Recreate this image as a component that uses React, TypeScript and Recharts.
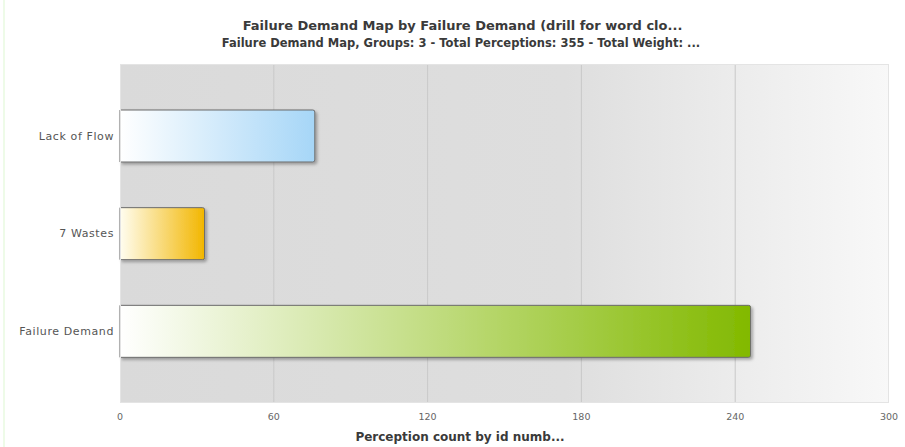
import { BarChart, Bar, XAxis, YAxis, CartesianGrid, Cell } from "recharts";

// Failure demand groups and their perception counts
const categories = ["Lack of Flow", "7 Wastes", "Failure Demand"];
const counts = [76, 33, 246];
const xTicks = [0, 60, 120, 180, 240, 300];

// start / end colour of each bar's horizontal gradient
const barColors = [
  ["#ffffff", "#a6d6f7"],
  ["#fffdf0", "#f2b600"],
  ["#ffffff", "#82b900"],
];

const data = categories.map((name, i) => ({ name, value: counts[i] }));

const FONT = "Verdana, 'DejaVu Sans', sans-serif";

const centered = {
  position: "absolute" as const,
  left: 0,
  width: 925,
  textAlign: "center" as const,
  fontWeight: "bold" as const,
  color: "#3a3a3a",
  whiteSpace: "nowrap" as const,
};

export default function App() {
  return (
    <div style={{ position: "absolute", left: 0, top: 0, width: 905, height: 447, background: "#fff", fontFamily: FONT }}>
      <div style={{ position: "absolute", left: 3, top: 0, width: 2, height: 447, background: "#eefbe8" }} />
      <div style={{ ...centered, top: 18, fontSize: 13 }}>
        Failure Demand Map by Failure Demand (drill for word clo...
      </div>
      <div style={{ ...centered, top: 36, fontSize: 11.5, width: 922 }}>
        Failure Demand Map, Groups: 3 - Total Perceptions: 355 - Total Weight: ...
      </div>
      <BarChart
        width={905}
        height={447}
        data={data}
        layout="vertical"
        margin={{ top: 64, right: 16, left: 0, bottom: 0 }}
        barSize={52}
        style={{ position: "absolute", left: 0, top: 0 }}
      >
        <defs>
          <linearGradient id="plotBg" x1="0" y1="0" x2="1" y2="0">
            <stop offset="0%" stopColor="#dadada" />
            <stop offset="58%" stopColor="#dedede" />
            <stop offset="80%" stopColor="#ececec" />
            <stop offset="100%" stopColor="#f8f8f8" />
          </linearGradient>
          {barColors.map(([from, to], i) => (
            <linearGradient key={i} id={`barGrad${i}`} x1="0" y1="0" x2="1" y2="0">
              <stop offset="0%" stopColor={from} />
              <stop offset="100%" stopColor={to} />
            </linearGradient>
          ))}
          <filter id="barShadow" x="-5%" y="-10%" width="115%" height="130%">
            <feDropShadow dx="2" dy="2" stdDeviation="1.5" floodColor="#000" floodOpacity="0.3" />
          </filter>
        </defs>
        <CartesianGrid
          horizontal={false}
          stroke="#c9c9c9"
          fill="url(#plotBg)"
          verticalValues={[60, 120, 180, 240]}
        />
        <XAxis
          type="number"
          domain={[0, 300]}
          ticks={xTicks}
          height={44}
          axisLine={false}
          tickLine={false}
          tick={{ fontSize: 9.5, fill: "#666", fontFamily: FONT }}
          tickMargin={4}
        />
        <YAxis
          type="category"
          dataKey="name"
          width={120}
          axisLine={false}
          tickLine={false}
          padding={{ top: 23, bottom: 23 }}
          tick={{ fontSize: 11, fill: "#555", fontFamily: FONT, letterSpacing: 0.6 }}
          tickMargin={0}
        />
        <Bar
          dataKey="value"
          isAnimationActive={false}
          stroke="#6b6b6b"
          strokeWidth={1}
          radius={[0, 2, 2, 0]}
          filter="url(#barShadow)"
        >
          {data.map((entry, i) => (
            <Cell key={entry.name} fill={`url(#barGrad${i})`} />
          ))}
        </Bar>
      </BarChart>
      {/* plot frame */}
      <div
        style={{
          position: "absolute",
          left: 120,
          top: 64,
          width: 769,
          height: 339,
          border: "1px solid #e4e4e4",
          boxSizing: "border-box",
          pointerEvents: "none",
        }}
      />
      <div style={{ ...centered, top: 430, fontSize: 12, width: 920 }}>Perception count by id numb...</div>
    </div>
  );
}
